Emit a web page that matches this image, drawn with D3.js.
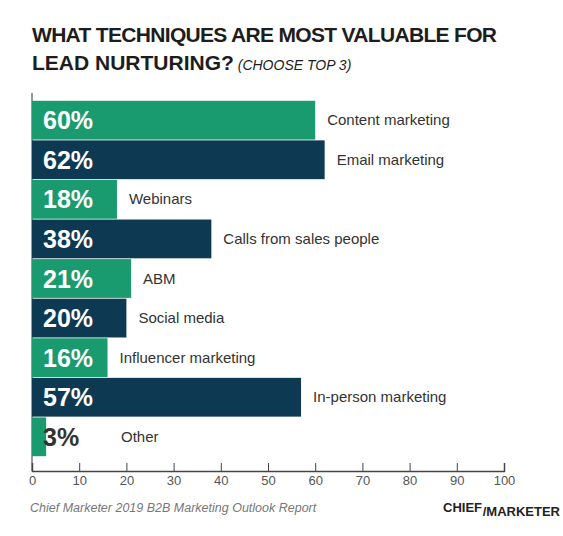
<!DOCTYPE html>
<html><head><meta charset="utf-8">
<script src="https://cdn.jsdelivr.net/npm/d3@7"></script>
<style>body{margin:0;background:#fff}svg{font-family:"Liberation Sans",Arial,sans-serif}</style>
</head><body><div id="chart"></div>
<script>
var categories = ["Content marketing", "Email marketing", "Webinars", "Calls from sales people", "ABM",
    "Social media", "Influencer marketing", "In-person marketing", "Other"];
var values = [60, 62, 18, 38, 21, 20, 16, 57, 3];
var xTicks = [0, 10, 20, 30, 40, 50, 60, 70, 80, 90, 100];

var W = 563, H = 536;
var svg = d3.select("#chart").append("svg").attr("width", W).attr("height", H);

// title
var title = svg.append("text").attr("x", 32).attr("y", 42)
    .style("font-size", "21px").style("font-weight", "bold").style("fill", "#1d1d1d");
title.append("tspan").text("WHAT TECHNIQUES ARE MOST VALUABLE FOR").attr("textLength", 465);
var t2 = svg.append("text").attr("x", 32).attr("y", 70).style("fill", "#1d1d1d");
t2.append("tspan").text("LEAD NURTURING?").style("font-size", "21px").style("font-weight", "bold");
t2.append("tspan").text(" (CHOOSE TOP 3)").style("font-size", "14px").style("font-style", "italic");

var x = d3.scaleLinear().domain([0, 100]).range([32, 504]);
var y = d3.scaleBand().domain(categories).range([100, 457]).padding(0.02);

svg.append("line").attr("x1", 32).attr("x2", 32).attr("y1", 93).attr("y2", 471)
    .attr("stroke", "#777").attr("stroke-width", 1.5);

var rows = svg.selectAll("g.row").data(categories).enter().append("g").attr("class", "row");
rows.append("rect")
    .attr("x", x(0)).attr("y", function (d) { return y(d); })
    .attr("width", function (d, i) { return x(values[i]) - x(0); })
    .attr("height", y.bandwidth())
    .attr("fill", function (d, i) { return i % 2 ? "#0d3a52" : "#1a9b6f"; });
rows.append("text")
    .attr("x", 43).attr("y", function (d) { return y(d) + y.bandwidth() / 2 + 9; })
    .style("font-size", "25px").style("font-weight", "bold")
    .style("fill", function (d, i) { return values[i] < 10 ? "#333" : "#fff"; })
    .text(function (d, i) { return values[i] + "%"; });
rows.append("text")
    .attr("x", function (d, i) { return values[i] < 10 ? 121 : Math.max(x(values[i]) + 12, 108); })
    .attr("y", function (d) { return y(d) + y.bandwidth() / 2 + 5; })
    .style("font-size", "15px").style("fill", "#333")
    .text(function (d) { return d; });

var axis = svg.append("g").attr("transform", "translate(0,471)")
    .call(d3.axisBottom(x).tickValues(xTicks).tickSize(-8).tickPadding(2));
axis.select(".domain").attr("stroke", "#444").attr("stroke-width", 1.5);
axis.selectAll(".tick line").attr("stroke", "#444");
axis.selectAll(".tick text").attr("y", 5).attr("dy", "0.71em").style("font-size", "13px").style("fill", "#555")
    .style("font-family", "Liberation Sans, Arial, sans-serif");

svg.append("text").attr("x", 30).attr("y", 512).style("font-size", "12.5px")
    .style("font-style", "italic").style("fill", "#777")
    .text("Chief Marketer 2019 B2B Marketing Outlook Report");
svg.append("text").attr("x", 443).attr("y", 512).style("font-size", "13px")
    .style("font-weight", "bold").style("fill", "#222").text("CHIEF");
svg.append("text").attr("x", 560).attr("y", 516).attr("text-anchor", "end").style("font-size", "13px")
    .style("font-weight", "bold").style("fill", "#222").text("/MARKETER");
</script></body></html>
